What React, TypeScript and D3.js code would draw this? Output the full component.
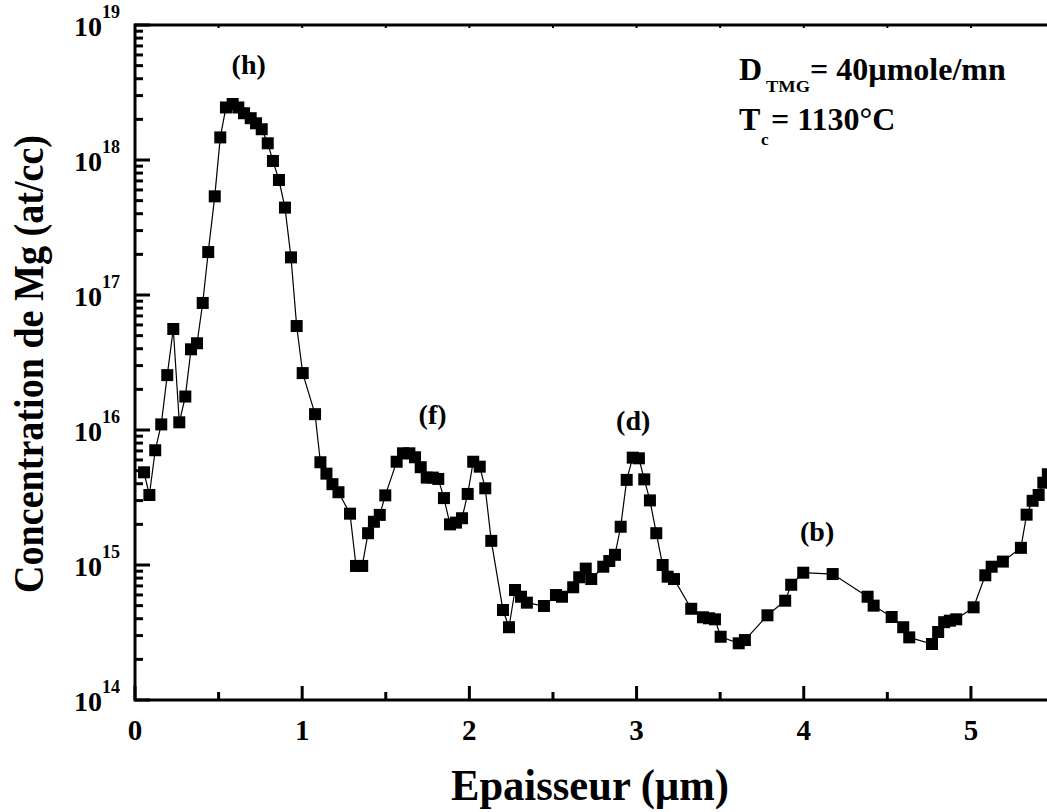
import React from "react";
import * as d3 from "d3";

const thickness = [
  0.054, 0.086, 0.121, 0.157, 0.193, 0.229, 0.265, 0.301, 0.335, 0.371,
  0.405, 0.438, 0.477, 0.51, 0.544, 0.584, 0.618, 0.652, 0.692, 0.724,
  0.758, 0.794, 0.825, 0.861, 0.897, 0.933, 0.967, 1.003, 1.077, 1.109,
  1.145, 1.181, 1.217, 1.286, 1.322, 1.359, 1.394, 1.429, 1.464, 1.497,
  1.565, 1.603, 1.641, 1.675, 1.709, 1.745, 1.781, 1.814, 1.848, 1.884,
  1.92, 1.956, 1.99, 2.023, 2.062, 2.095, 2.131, 2.201, 2.237, 2.273,
  2.309, 2.344, 2.446, 2.518, 2.554, 2.621, 2.657, 2.696, 2.729, 2.801,
  2.837, 2.871, 2.905, 2.941, 2.977, 3.014, 3.046, 3.08, 3.118, 3.156,
  3.186, 3.224, 3.327, 3.397, 3.433, 3.469, 3.503, 3.611, 3.648, 3.783,
  3.889, 3.925, 3.997, 4.173, 4.382, 4.418, 4.526, 4.595, 4.631, 4.767,
  4.804, 4.84, 4.874, 4.912, 5.016, 5.086, 5.124, 5.191, 5.299, 5.333,
  5.369, 5.405, 5.433, 5.46,
];

const concentration = [
  4.86e15, 3.3e15, 7.08e15, 1.1e16, 2.55e16, 5.6e16, 1.14e16, 1.77e16, 3.96e16, 4.39e16,
  8.73e16, 2.08e17, 5.38e17, 1.47e18, 2.45e18, 2.6e18, 2.45e18, 2.22e18, 2.04e18, 1.87e18,
  1.69e18, 1.33e18, 9.84e17, 7.11e17, 4.44e17, 1.9e17, 5.89e16, 2.64e16, 1.31e16, 5.77e15,
  4.75e15, 3.97e15, 3.46e15, 2.4e15, 9.84e14, 9.84e14, 1.72e15, 2.09e15, 2.35e15, 3.28e15,
  5.82e15, 6.72e15, 6.72e15, 6.28e15, 5.3e15, 4.44e15, 4.44e15, 4.34e15, 3.13e15, 2.0e15,
  2.06e15, 2.22e15, 3.36e15, 5.82e15, 5.35e15, 3.7e15, 1.51e15, 4.64e14, 3.46e14, 6.53e14,
  5.82e14, 5.26e14, 4.97e14, 5.99e14, 5.82e14, 6.84e14, 8.11e14, 9.4e14, 7.87e14, 9.71e14,
  1.07e15, 1.19e15, 1.92e15, 4.27e15, 6.24e15, 6.17e15, 4.31e15, 3.01e15, 1.72e15, 1.0e15,
  8.19e14, 7.87e14, 4.74e14, 4.1e14, 4.03e14, 3.96e14, 2.94e14, 2.63e14, 2.78e14, 4.24e14,
  5.44e14, 7.14e14, 8.77e14, 8.57e14, 5.82e14, 5.0e14, 4.12e14, 3.46e14, 2.91e14, 2.6e14,
  3.19e14, 3.77e14, 3.87e14, 3.96e14, 4.86e14, 8.39e14, 9.71e14, 1.06e15, 1.34e15, 2.36e15,
  2.99e15, 3.3e15, 4.07e15, 4.7e15,
];

const xTickValues = [0, 1, 2, 3, 4, 5];
const xMinorTicks = [0.5, 1.5, 2.5, 3.5, 4.5, 5.5];
const yExponents = [14, 15, 16, 17, 18, 19];

const peakLabels = ["(h)", "(f)", "(d)", "(b)"];
const peakLabelX = [0.68, 1.78, 2.98, 4.08];
const peakLabelY = [4.3e18, 1.1e16, 1.0e16, 1.5e15];

const W = 1047;
const H = 812;
const FONT = "'Liberation Serif', 'Times New Roman', serif";

export default function App() {
  const x = d3.scaleLinear().domain([0, 5.455]).range([135, 1047]);
  const y = d3.scaleLog().domain([1e14, 1e19]).range([700, 25]);

  const pts = thickness.map((t, i) => [x(t), y(concentration[i])] as [number, number]);
  const line = d3.line()(pts) || "";

  const minorY: number[] = [];
  for (let e = 14; e < 19; e++) {
    for (let m = 2; m <= 9; m++) minorY.push(m * Math.pow(10, e));
  }

  const sq = 12;

  return (
    <svg
      width={W}
      height={H}
      style={{ position: "absolute", left: 0, top: 0, background: "#fff" }}
      fontFamily={FONT}
      fontWeight="bold"
    >
      <rect x={0} y={0} width={W} height={H} fill="#fff" />
      {/* data line */}
      <path d={line} fill="none" stroke="#000" strokeWidth={1.2} />
      {pts.map((p, i) => (
        <rect key={i} x={p[0] - sq / 2} y={p[1] - sq / 2} width={sq} height={sq} fill="#000" />
      ))}

      {/* frame */}
      <line x1={135} y1={25} x2={1060} y2={25} stroke="#000" strokeWidth={3} />
      <line x1={135} y1={700} x2={1060} y2={700} stroke="#000" strokeWidth={3} />
      <line x1={135} y1={23.5} x2={135} y2={701.5} stroke="#000" strokeWidth={3} />

      {/* y ticks */}
      {yExponents.map((e) => (
        <line key={"ym" + e} x1={135} x2={150} y1={y(Math.pow(10, e))} y2={y(Math.pow(10, e))} stroke="#000" strokeWidth={3} />
      ))}
      {minorY.map((v, i) => (
        <line key={"yn" + i} x1={135} x2={143} y1={y(v)} y2={y(v)} stroke="#000" strokeWidth={3} />
      ))}

      {/* x ticks */}
      {xTickValues.map((v) => (
        <g key={"xt" + v}>
          <line x1={x(v)} x2={x(v)} y1={700} y2={686} stroke="#000" strokeWidth={3} />
          <line x1={x(v)} x2={x(v)} y1={25} y2={28} stroke="#000" strokeWidth={2} />
        </g>
      ))}
      {xMinorTicks.map((v) => (
        <g key={"xm" + v}>
          <line x1={x(v)} x2={x(v)} y1={700} y2={692} stroke="#000" strokeWidth={3} />
          <line x1={x(v)} x2={x(v)} y1={25} y2={28} stroke="#000" strokeWidth={2} />
        </g>
      ))}

      {/* x tick labels */}
      {xTickValues.map((v) => (
        <text key={"xl" + v} x={x(v)} y={740} fontSize={29} textAnchor="middle" fill="#000">
          {v}
        </text>
      ))}

      {/* y tick labels */}
      {yExponents.map((e) => {
        const yy = y(Math.pow(10, e));
        return (
          <g key={"yl" + e}>
            <text x={102} y={yy + 11} fontSize={28} textAnchor="end" fill="#000">
              10
            </text>
            <text x={102} y={yy - 7} fontSize={18} textAnchor="start" fill="#000">
              {e}
            </text>
          </g>
        );
      })}

      {/* axis titles */}
      <text x={590} y={800} fontSize={44} textAnchor="middle" textLength={278} lengthAdjust="spacingAndGlyphs" fill="#000">
        Epaisseur (µm)
      </text>
      <text
        transform="translate(43,364) rotate(-90)"
        fontSize={42}
        textAnchor="middle"
        textLength={458}
        lengthAdjust="spacingAndGlyphs"
        fill="#000"
      >
        Concentration de Mg (at/cc)
      </text>

      {/* peak labels */}
      {peakLabels.map((s, i) => (
        <text key={s} x={x(peakLabelX[i])} y={y(peakLabelY[i])} fontSize={28} textAnchor="middle" fill="#000">
          {s}
        </text>
      ))}

      {/* annotation */}
      <text x={739} y={80} fontSize={32} fill="#000">
        D
      </text>
      <text x={766} y={92} fontSize={17} fill="#000" textLength={44} lengthAdjust="spacingAndGlyphs">
        TMG
      </text>
      <text x={810} y={80} fontSize={32} fill="#000">
        = 40µmole/mn
      </text>
      <text x={739} y={130} fontSize={32} fill="#000">
        T
      </text>
      <text x={761} y={145} fontSize={17} fill="#000">
        c
      </text>
      <text x={771} y={130} fontSize={32} fill="#000">
        = 1130°C
      </text>
    </svg>
  );
}
